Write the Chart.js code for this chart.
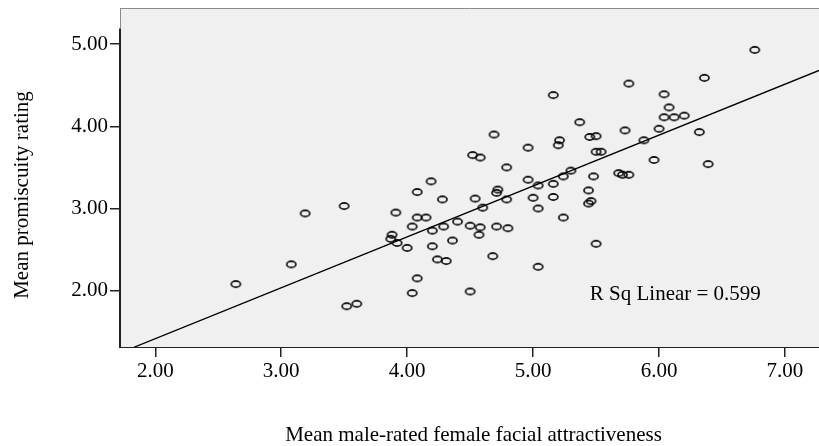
<!DOCTYPE html>
<html>
<head>
<meta charset="utf-8">
<script src="https://cdn.jsdelivr.net/npm/chart.js@4.4.0/dist/chart.umd.min.js"></script>
<style>
  html, body { margin: 0; padding: 0; background: #fff; }
  #wrap { width: 819px; height: 446px; }
</style>
</head>
<body>
<div id="wrap"><canvas id="scatter" width="819" height="446"></canvas></div>
<script>
// values
var attractiveness = [
  2.64, 3.08, 3.19, 3.50, 3.52, 3.60, 3.91, 3.88, 3.87, 3.92,
  4.00, 4.08, 4.08, 4.04, 4.08, 4.04, 4.19, 4.15, 4.20, 4.28,
  4.29, 4.20, 4.36, 4.24, 4.31, 4.40, 4.52, 4.58, 4.54, 4.60,
  4.50, 4.58, 4.57, 4.50, 4.69, 4.72, 4.71, 4.79, 4.79, 4.71,
  4.80, 4.68, 4.96, 4.96, 5.00, 5.04, 5.04, 5.04, 5.16, 5.16,
  5.16, 5.21, 5.20, 5.24, 5.24, 5.30, 5.37, 5.45, 5.50, 5.44,
  5.46, 5.44, 5.48, 5.50, 5.54, 5.50, 5.68, 5.71, 5.76, 5.73,
  5.76, 5.88, 5.96, 6.00, 6.04, 6.08, 6.04, 6.12, 6.20, 6.32,
  6.36, 6.39, 6.76
];
var promiscuity = [
  2.08, 2.32, 2.94, 3.03, 1.81, 1.84, 2.95, 2.68, 2.63, 2.58,
  2.52, 3.20, 2.89, 2.78, 2.15, 1.97, 3.33, 2.89, 2.73, 3.11,
  2.78, 2.54, 2.61, 2.38, 2.36, 2.84, 3.65, 3.62, 3.12, 3.01,
  2.79, 2.77, 2.68, 1.99, 3.90, 3.23, 3.19, 3.11, 3.50, 2.78,
  2.76, 2.42, 3.74, 3.35, 3.13, 3.28, 3.00, 2.29, 4.38, 3.30,
  3.14, 3.83, 3.77, 3.39, 2.89, 3.46, 4.05, 3.87, 3.88, 3.22,
  3.09, 3.06, 3.39, 3.69, 3.69, 2.57, 3.43, 3.41, 3.41, 3.95,
  4.52, 3.83, 3.59, 3.97, 4.39, 4.23, 4.11, 4.11, 4.13, 3.93,
  4.59, 3.54, 4.93
];
// fit line end points as seen in the picture
var fitX = [1.83, 7.27];
var fitY = [1.31, 4.68];
var xTicks = [2, 3, 4, 5, 6, 7];
var yTicks = [2, 3, 4, 5];
var rSqLabel = "R Sq Linear = 0.599";
var xTitle = "Mean male-rated female facial attractiveness";
var yTitle = "Mean promiscuity rating";

var FONT = "21px 'Liberation Serif', 'Times New Roman', serif";

// open ellipse marker like SPSS
function ringMarker(){
  var c = document.createElement("canvas");
  c.width = 13; c.height = 10;
  var g = c.getContext("2d");
  g.strokeStyle = "#000";
  g.lineWidth = 1.6;
  g.beginPath();
  g.ellipse(6.5, 5, 4.6, 3.1, 0, 0, Math.PI * 2);
  g.stroke();
  return c;
}

var frame = {
  id: "frame",
  beforeDatasetsDraw: function(chart){
    var a = chart.chartArea, ctx = chart.ctx;
    ctx.save();
    ctx.fillStyle = "#f0f0f0";
    ctx.fillRect(a.left, a.top, a.right - a.left, a.bottom - a.top);
    ctx.strokeStyle = "#8a8a8a";
    ctx.lineWidth = 1;
    ctx.beginPath();
    ctx.moveTo(a.left, a.top + 0.5);
    ctx.lineTo(a.right, a.top + 0.5);
    ctx.stroke();
    var yTop = chart.scales.y.getPixelForValue(5.19);
    ctx.beginPath();
    ctx.moveTo(a.left + 0.5, a.top);
    ctx.lineTo(a.left + 0.5, yTop);
    ctx.stroke();
    ctx.strokeStyle = "#222";
    ctx.lineWidth = 2;
    ctx.beginPath();
    ctx.moveTo(a.left, yTop);
    ctx.lineTo(a.left, a.bottom);
    ctx.stroke();
    ctx.restore();
  },
  afterDraw: function(chart){
    var a = chart.chartArea, ctx = chart.ctx;
    var xs = chart.scales.x, ys = chart.scales.y;
    ctx.save();
    ctx.fillStyle = "#000";
    ctx.font = FONT;
    ctx.textBaseline = "alphabetic";
    ctx.textAlign = "left";
    ctx.fillText(rSqLabel, xs.getPixelForValue(5.45), ys.getPixelForValue(1.885));
    ctx.textAlign = "center";
    ctx.fillText(xTitle, (a.left + a.right) / 2 + 4, 441);
    ctx.translate(28, 195);
    ctx.rotate(-Math.PI / 2);
    ctx.fillText(yTitle, 0, 0);
    ctx.restore();
  }
};

function axisOpts(min, max, ticks, fit){
  return {
    type: "linear",
    min: min,
    max: max,
    afterBuildTicks: function(s){ s.ticks = ticks.map(function(v){ return { value: v }; }); },
    afterFit: function(s){
      fit(s);
      s.paddingLeft = 0; s.paddingRight = 0;
      s.paddingTop = 0; s.paddingBottom = 0;
    },
    ticks: {
      color: "#000",
      padding: 2,
      font: { family: "'Liberation Serif', 'Times New Roman', serif", size: 21 },
      callback: function(v){ return Number(v).toFixed(2); }
    },
    grid: { drawOnChartArea: false, drawTicks: true, tickLength: 10, color: "#222", lineWidth: 1.5 },
    border: { display: false }
  };
}

var xAxis = axisOpts(1.72, 7.27, xTicks, function(s){ s.height = 99; });
xAxis.border = { display: true, color: "#222", width: 2 };
var yAxis = axisOpts(1.314, 5.44, yTicks, function(s){ s.width = 120; });

new Chart(document.getElementById("scatter").getContext("2d"), {
  type: "scatter",
  data: {
    datasets: [
      {
        data: attractiveness.map(function(x, i){ return { x: x, y: promiscuity[i] }; }),
        pointStyle: ringMarker(),
        pointRadius: 5
      },
      {
        data: fitX.map(function(x, i){ return { x: x, y: fitY[i] }; }),
        showLine: true,
        borderColor: "#000",
        borderWidth: 1.3,
        pointRadius: 0
      }
    ]
  },
  options: {
    responsive: false,
    animation: false,
    devicePixelRatio: 1,
    layout: { autoPadding: false, padding: { top: 8, left: 0, right: 0, bottom: 0 } },
    plugins: { legend: { display: false }, tooltip: { enabled: false } },
    scales: { x: xAxis, y: yAxis }
  },
  plugins: [frame]
});
</script>
</body>
</html>
